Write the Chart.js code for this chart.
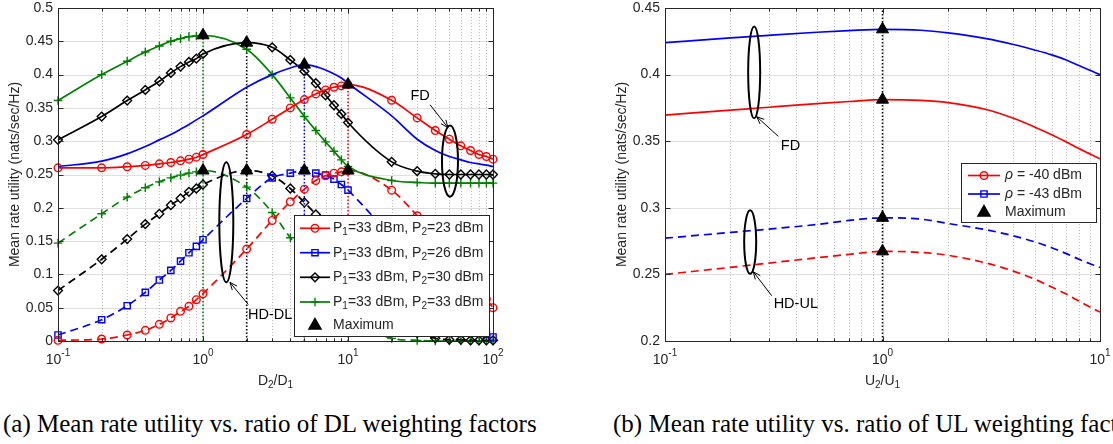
<!DOCTYPE html>
<html>
<head>
<meta charset="utf-8">
<script src="https://cdn.jsdelivr.net/npm/chart.js@4.4.0/dist/chart.umd.min.js"></script>
<style>
  html, body { margin: 0; padding: 0; background: #fff; width: 1113px; height: 444px; overflow: hidden; }
  .wrap { position: absolute; top: 0; height: 400px; }
  #wrapA { left: 0; width: 556px; }
  #wrapB { left: 556px; width: 557px; }
  .cap { position: absolute; top: 410px; font-family: 'Liberation Serif', 'Times New Roman', serif;
         font-size: 25px; line-height: 28px; color: #000; white-space: nowrap; }
</style>
</head>
<body>
<div class="wrap" id="wrapA"><canvas id="chartA"></canvas></div>
<div class="wrap" id="wrapB"><canvas id="chartB"></canvas></div>
<div class="cap" style="left:3px">(a) Mean rate utility vs. ratio of DL weighting factors</div>
<div class="cap" style="left:613px">(b) Mean rate utility vs. ratio of UL weighting factors</div>
<script>
// ====== DATA (a): DL weighting ratio D2/D1 ======

const dlRatio = [0.1, 0.2, 0.3, 0.4, 0.5, 0.6, 0.7, 0.8, 0.9, 1,
  2, 3, 4, 5, 6, 7, 8, 9, 10,
  20, 30, 40, 50, 60, 70, 80, 90, 100];

// FD (solid)
const dlFdP23 = [0.260, 0.260, 0.2616, 0.2636, 0.266, 0.268, 0.2705, 0.273, 0.276, 0.280,
  0.310, 0.333, 0.350, 0.3625, 0.371, 0.377, 0.381, 0.383, 0.385,
  0.3615, 0.335, 0.316, 0.303, 0.293, 0.286, 0.280, 0.277, 0.273];
const dlFdP26 = [0.262, 0.270, 0.281, 0.292, 0.302, 0.310, 0.318, 0.325, 0.332, 0.338,
  0.381, 0.400, 0.410, 0.415, 0.412, 0.407, 0.401, 0.395, 0.387,
  0.338, 0.303, 0.286, 0.277, 0.272, 0.268, 0.266, 0.264, 0.262];
const dlFdP30 = [0.302, 0.337, 0.361, 0.377, 0.390, 0.4025, 0.412, 0.419, 0.424, 0.431,
  0.448, 0.441, 0.422, 0.405, 0.387, 0.369, 0.354, 0.341, 0.328,
  0.269, 0.255, 0.251, 0.250, 0.250, 0.250, 0.250, 0.250, 0.250];
const dlFdP33 = [0.361, 0.400, 0.420, 0.434, 0.443, 0.450, 0.454, 0.457, 0.458, 0.459,
  0.438, 0.400, 0.365, 0.337, 0.316, 0.299, 0.285, 0.272, 0.262,
  0.241, 0.238, 0.237, 0.237, 0.237, 0.237, 0.237, 0.237, 0.237];

// HD-DL (dashed)
const dlHdP23 = [0.001, 0.003, 0.009, 0.016, 0.025, 0.0346, 0.0445, 0.052, 0.062, 0.071,
  0.138, 0.181, 0.209, 0.228, 0.241, 0.248, 0.252, 0.254, 0.256,
  0.2265, 0.188, 0.155, 0.130, 0.110, 0.092, 0.077, 0.063, 0.050];
const dlHdP26 = [0.009, 0.032, 0.053, 0.073, 0.0915, 0.106, 0.120, 0.1325, 0.142, 0.152,
  0.214, 0.245, 0.252, 0.256, 0.252, 0.249, 0.243, 0.235, 0.2265,
  0.155, 0.110, 0.077, 0.050, 0.035, 0.024, 0.015, 0.010, 0.006];
const dlHdP30 = [0.0757, 0.1227, 0.153, 0.1755, 0.191, 0.204, 0.214, 0.224, 0.229, 0.235,
  0.256, 0.248, 0.229, 0.208, 0.190, 0.172, 0.155, 0.140, 0.128,
  0.050, 0.012, 0.004, 0.002, 0.002, 0.001, 0.001, 0.001, 0.001];
const dlHdP33 = [0.147, 0.191, 0.216, 0.230, 0.239, 0.245, 0.249, 0.252, 0.254, 0.256,
  0.231, 0.193, 0.155, 0.130, 0.110, 0.092, 0.077, 0.063, 0.050,
  0.004, 0.001, 0, 0, 0, 0, 0, 0, 0];

// maxima (order: P2 = 23, 26, 30, 33)
const dlMaxRatio = [10, 5, 2, 1];
const dlFdMax = [0.385, 0.415, 0.448, 0.459];
const dlHdMax = [0.256, 0.256, 0.256, 0.256];

const dlSeriesNames = ['P_1=33 dBm, P_2=23 dBm', 'P_1=33 dBm, P_2=26 dBm',
  'P_1=33 dBm, P_2=30 dBm', 'P_1=33 dBm, P_2=33 dBm'];
const dlYTicks = [0, 0.05, 0.1, 0.15, 0.2, 0.25, 0.3, 0.35, 0.4, 0.45, 0.5];
const dlYLabels = ['0', '0.05', '0.1', '0.15', '0.2', '0.25', '0.3', '0.35', '0.4', '0.45', '0.5'];
const dlXExp = [-1, 0, 1, 2];

// ====== DATA (b): UL weighting ratio U2/U1 ======

const ulRatio = [0.1, 0.2, 0.3, 0.5, 0.7, 1, 1.5, 2, 3, 4, 5, 6, 7, 8, 9, 10];
const ulFdR40 = [0.3696, 0.3733, 0.3755, 0.3782, 0.3798, 0.3812, 0.3806, 0.379, 0.3738,
  0.3672, 0.3607, 0.3548, 0.3494, 0.3445, 0.3404, 0.3368];
const ulFdR43 = [0.424, 0.4275, 0.4295, 0.4318, 0.433, 0.434, 0.4333, 0.4313, 0.427,
  0.4226, 0.4185, 0.4148, 0.411, 0.4068, 0.4032, 0.400];
const ulHdR40 = [0.250, 0.2553, 0.2585, 0.2625, 0.265, 0.2673, 0.2665, 0.2644, 0.2585,
  0.2525, 0.2465, 0.2405, 0.2352, 0.2300, 0.2255, 0.2217];
const ulHdR43 = [0.2772, 0.2815, 0.284, 0.2875, 0.2905, 0.2925, 0.2915, 0.2882, 0.2835,
  0.2789, 0.2745, 0.2700, 0.2656, 0.2614, 0.2580, 0.2552];
const ulMaxRatio = [1, 1, 1, 1];
const ulMax = [0.3812, 0.434, 0.2925, 0.2673];

const ulSeriesNames = ['ρ = -40 dBm', 'ρ = -43 dBm'];
const ulYTicks = [0.2, 0.25, 0.3, 0.35, 0.4, 0.45];
const ulYLabels = ['0.2', '0.25', '0.3', '0.35', '0.4', '0.45'];
const ulXExp = [-1, 0, 1];

// ====== STYLE ======

const FONT = "'Liberation Sans', Arial, Helvetica, sans-serif";
const INK = '#262626';
const RED = '#ff0000', BLUE = '#0000ff', BLACK = '#000000', GREEN = '#008000';
const LW = 1.7;       // curve width
const MW = 1.4;       // marker stroke

// ====== TEXT HELPERS ======

// '_x' -> subscript x, ρ -> italic
function richParts(str) {
  const parts = [];
  for (let i = 0; i < str.length; i++) {
    const c = str[i];
    const last = parts[parts.length - 1];
    if (c === '_') { parts.push({ t: str[i + 1], sub: true }); i++; }
    else if (c === 'ρ') parts.push({ t: c, it: true });
    else if (last && !last.sub && !last.it) last.t += c;
    else parts.push({ t: c });
  }
  return parts;
}

function partFont(p, size) {
  const s = p.sub ? Math.round(size * 0.72) : size;
  return `${p.it ? 'italic ' : ''}${s}px ${FONT}`;
}

function drawRich(ctx, str, x, y, size, align) {
  const parts = richParts(str);
  let w = 0;
  parts.forEach(p => { ctx.font = partFont(p, size); p.w = ctx.measureText(p.t).width; w += p.w; });
  let cx = align === 'center' ? x - w / 2 : (align === 'right' ? x - w : x);
  ctx.textAlign = 'left';
  ctx.textBaseline = 'middle';
  parts.forEach(p => {
    ctx.font = partFont(p, size);
    ctx.fillText(p.t, cx, p.sub ? y + size * 0.3 : y);
    cx += p.w;
  });
}

function drawPow(ctx, exp, x, y) {
  ctx.font = `14px ${FONT}`;
  const wb = ctx.measureText('10').width;
  ctx.font = `10px ${FONT}`;
  const we = ctx.measureText(String(exp)).width;
  const x0 = x - (wb + we) / 2;
  ctx.textAlign = 'left';
  ctx.textBaseline = 'middle';
  ctx.font = `14px ${FONT}`;
  ctx.fillText('10', x0, y);
  ctx.font = `10px ${FONT}`;
  ctx.fillText(String(exp), x0 + wb, y - 7);
}

function logTicks(min, max) {
  const out = [];
  for (let e = Math.floor(Math.log10(min)); e <= Math.ceil(Math.log10(max)); e++) {
    for (let k = 1; k <= 9; k++) {
      const v = k * Math.pow(10, e);
      if (v >= min * 0.999 && v <= max * 1.001) out.push({ v, major: k === 1 });
    }
  }
  return out;
}

// ====== PLUGIN: matlab-like axes, notes and legend ======

function drawGrid(chart, cfg) {
  const { ctx, chartArea: a, scales: { x, y } } = chart;
  ctx.save();
  ctx.lineWidth = 1;
  logTicks(x.min, x.max).forEach(t => {
    const px = Math.round(x.getPixelForValue(t.v)) + 0.5;
    ctx.strokeStyle = t.major ? 'rgba(38,38,38,0.15)' : 'rgba(38,38,38,0.3)';
    ctx.setLineDash(t.major ? [] : [1, 2]);
    ctx.beginPath(); ctx.moveTo(px, a.top); ctx.lineTo(px, a.bottom); ctx.stroke();
  });
  ctx.setLineDash([]);
  ctx.strokeStyle = 'rgba(38,38,38,0.15)';
  cfg.yTicks.forEach(v => {
    const py = Math.round(y.getPixelForValue(v)) + 0.5;
    ctx.beginPath(); ctx.moveTo(a.left, py); ctx.lineTo(a.right, py); ctx.stroke();
  });
  ctx.restore();
}

function drawFrame(chart, cfg) {
  const { ctx, chartArea: a, scales: { x, y } } = chart;
  ctx.save();
  ctx.strokeStyle = INK;
  ctx.lineWidth = 1;
  const L = Math.round(a.left) + 0.5, R = Math.round(a.right) + 0.5;
  const T = Math.round(a.top) + 0.5, B = Math.round(a.bottom) + 0.5;
  ctx.strokeRect(L, T, R - L, B - T);
  ctx.beginPath();
  logTicks(x.min, x.max).forEach(t => {
    const px = Math.round(x.getPixelForValue(t.v)) + 0.5;
    const len = t.major ? 5 : 3;
    ctx.moveTo(px, B); ctx.lineTo(px, B - len);
    ctx.moveTo(px, T); ctx.lineTo(px, T + len);
  });
  cfg.yTicks.forEach(v => {
    const py = Math.round(y.getPixelForValue(v)) + 0.5;
    ctx.moveTo(L, py); ctx.lineTo(L + 5, py);
    ctx.moveTo(R, py); ctx.lineTo(R - 5, py);
  });
  ctx.stroke();

  ctx.fillStyle = INK;
  cfg.yTicks.forEach((v, i) => drawRich(ctx, cfg.yLabels[i], a.left - 5, y.getPixelForValue(v), 14, 'right'));
  cfg.xExp.forEach(e => drawPow(ctx, e, x.getPixelForValue(Math.pow(10, e)), a.bottom + 19));

  drawRich(ctx, cfg.xTitle, (a.left + a.right) / 2, a.bottom + 40, 14, 'center');
  ctx.translate(a.left - 43, (a.top + a.bottom) / 2);
  ctx.rotate(-Math.PI / 2);
  drawRich(ctx, 'Mean rate utility (nats/sec/Hz)', 0, 0, 14, 'center');
  ctx.restore();
}

function drawNotes(chart, cfg) {
  const { ctx, scales: { x, y } } = chart;
  ctx.save();
  ctx.strokeStyle = '#000';
  ctx.fillStyle = '#000';
  cfg.notes.forEach(n => {
    if (n.type === 'ellipse') {
      const cy = y.getPixelForValue(n.y);
      const ry = Math.abs(y.getPixelForValue(n.y + n.dy) - cy);
      ctx.lineWidth = 2;
      ctx.beginPath();
      ctx.ellipse(x.getPixelForValue(n.x), cy, n.rx, ry, 0, 0, Math.PI * 2);
      ctx.stroke();
    } else if (n.type === 'arrow') {
      const x1 = x.getPixelForValue(n.from[0]), y1 = y.getPixelForValue(n.from[1]);
      const x2 = x.getPixelForValue(n.to[0]), y2 = y.getPixelForValue(n.to[1]);
      const ang = Math.atan2(y2 - y1, x2 - x1);
      ctx.lineWidth = 1;
      ctx.beginPath();
      ctx.moveTo(x1, y1); ctx.lineTo(x2, y2);
      ctx.moveTo(x2 - 8 * Math.cos(ang - 0.4), y2 - 8 * Math.sin(ang - 0.4));
      ctx.lineTo(x2, y2);
      ctx.lineTo(x2 - 8 * Math.cos(ang + 0.4), y2 - 8 * Math.sin(ang + 0.4));
      ctx.stroke();
    } else {
      drawRich(ctx, n.text, x.getPixelForValue(n.x), y.getPixelForValue(n.y), 14.5, n.align);
    }
  });
  ctx.restore();
}

function drawLegend(chart, cfg) {
  const { ctx } = chart;
  const lg = cfg.legend;
  ctx.save();
  ctx.fillStyle = '#fff';
  ctx.fillRect(lg.box[0], lg.box[1], lg.box[2] - lg.box[0], lg.box[3] - lg.box[1]);
  ctx.strokeStyle = INK;
  ctx.lineWidth = 1;
  ctx.strokeRect(lg.box[0] + 0.5, lg.box[1] + 0.5, lg.box[2] - lg.box[0], lg.box[3] - lg.box[1]);
  lg.entries.forEach((e, i) => {
    const ry = lg.rows[i];
    const mx = (lg.line[0] + lg.line[1]) / 2;
    if (e.line) {
      ctx.strokeStyle = e.color;
      ctx.lineWidth = LW;
      ctx.beginPath(); ctx.moveTo(lg.line[0], ry); ctx.lineTo(lg.line[1], ry); ctx.stroke();
    }
    ctx.strokeStyle = e.color;
    ctx.fillStyle = e.fill || 'rgba(0,0,0,0)';
    ctx.lineWidth = MW;
    Chart.helpers.drawPoint(ctx, { pointStyle: e.style, radius: e.radius, rotation: 0, borderWidth: MW }, mx, ry);
    ctx.fillStyle = INK;
    drawRich(ctx, e.label, lg.textX, ry, 14, 'left');
  });
  ctx.restore();
}

function axesPlugin(cfg) {
  return {
    id: 'matlabAxes',
    beforeDatasetsDraw(chart) { drawGrid(chart, cfg); },
    afterDatasetsDraw(chart) {
      drawFrame(chart, cfg);
      drawNotes(chart, cfg);
      drawLegend(chart, cfg);
    }
  };
}

// ====== DATASETS ======

function pts(xs, ys) { return xs.map((x, i) => ({ x, y: ys[i] })); }

function curve(xs, ys, color, dashed, style, radius) {
  return {
    data: pts(xs, ys),
    borderColor: color, borderWidth: LW, borderDash: dashed ? [8, 5] : [],
    pointStyle: style || 'circle', pointRadius: style ? radius : 0, pointHoverRadius: 0,
    pointBorderColor: color, pointBackgroundColor: 'rgba(0,0,0,0)', pointBorderWidth: MW,
    cubicInterpolationMode: 'monotone', fill: false, clip: false,
  };
}

function guide(xv, y0, y1, color) {
  return {
    data: [{ x: xv, y: y0 }, { x: xv, y: y1 }],
    borderColor: color, borderWidth: 1.5, borderDash: [1.5, 2],
    pointRadius: 0, pointHoverRadius: 0, fill: false, clip: false,
  };
}

function peaks(xs, ys) {
  return {
    data: pts(xs, ys), showLine: false,
    pointStyle: 'triangle', pointRadius: 7, pointHoverRadius: 7,
    pointBackgroundColor: '#000', pointBorderColor: '#000', pointBorderWidth: 1, clip: false,
  };
}

function baseOptions(yMin, yMax, padding, yWidth) {
  return {
    responsive: true, maintainAspectRatio: false, animation: false, events: [],
    layout: { padding },
    plugins: { legend: { display: false }, tooltip: { enabled: false } },
    scales: {
      x: { type: 'logarithmic', min: 0.1, max: 100,
           ticks: { display: false }, grid: { display: false }, border: { display: false },
           afterFit: s => { s.height = 59; s.paddingLeft = 0; s.paddingRight = 0; } },
      y: { type: 'linear', min: yMin, max: yMax,
           ticks: { display: false }, grid: { display: false }, border: { display: false },
           afterFit: s => { s.width = yWidth; s.paddingTop = 0; s.paddingBottom = 0; } }
    }
  };
}

// ====== CHART (a) ======

const dlColors = [RED, BLUE, BLACK, GREEN];
const dlStyles = [['circle', 3.8], ['rect', 4.4], ['rectRot', 4.4], ['cross', 4.3]];
const dlFd = [dlFdP23, dlFdP26, dlFdP30, dlFdP33];
const dlHd = [dlHdP23, dlHdP26, dlHdP30, dlHdP33];

const dlDatasets = [peaks(dlMaxRatio, dlFdMax), peaks(dlMaxRatio, dlHdMax)];
dlFd.forEach((ys, i) => {
  // blue FD curve is drawn without markers
  const st = i === 1 ? [null, 0] : dlStyles[i];
  dlDatasets.push(curve(dlRatio, ys, dlColors[i], false, st[0], st[1]));
});
dlHd.forEach((ys, i) => dlDatasets.push(curve(dlRatio, ys, dlColors[i], true, dlStyles[i][0], dlStyles[i][1])));
dlMaxRatio.forEach((xv, i) => dlDatasets.push(guide(xv, 0, dlFdMax[i], dlColors[i])));

const optsA = baseOptions(0, 0.5, { left: 0, top: 4, right: 63, bottom: 0 }, 58);

new Chart(document.getElementById('chartA'), {
  type: 'line',
  data: { datasets: dlDatasets },
  options: optsA,
  plugins: [axesPlugin({
    yTicks: dlYTicks, yLabels: dlYLabels, xExp: dlXExp, xTitle: 'D_2/D_1',
    notes: [
      { type: 'ellipse', x: 50.5, y: 0.270, dy: 0.0534, rx: 8 },
      { type: 'arrow', from: [36.8, 0.3546], to: [48.9, 0.3205] },
      { type: 'text', text: 'FD', x: 31.4, y: 0.368, align: 'center' },
      { type: 'ellipse', x: 1.448, y: 0.1783, dy: 0.0902, rx: 7 },
      { type: 'arrow', from: [2.05, 0.0549], to: [1.535, 0.088] },
      { type: 'text', text: 'HD-DL', x: 2.043, y: 0.0386, align: 'left' },
    ],
    legend: {
      box: [294, 215, 489, 336], rows: [228.3, 252.7, 277.3, 302, 325.5],
      line: [300, 330], textX: 333,
      entries: dlSeriesNames.map((label, i) => ({
        label, color: dlColors[i], style: dlStyles[i][0], radius: dlStyles[i][1], line: true
      })).concat([{ label: 'Maximum', color: '#000', fill: '#000', style: 'triangle', radius: 7, line: false }])
    }
  })]
});

// ====== CHART (b) ======

const ulDatasets = [
  peaks(ulMaxRatio, ulMax),
  curve(ulRatio, ulFdR40, RED, false),
  curve(ulRatio, ulFdR43, BLUE, false),
  curve(ulRatio, ulHdR40, RED, true),
  curve(ulRatio, ulHdR43, BLUE, true),
  guide(1, 0.2, 0.45, BLACK),
];

const optsB = baseOptions(0.2, 0.45, { left: 0, top: 3, right: 13, bottom: 0 }, 109);
optsB.scales.x.max = 10;

new Chart(document.getElementById('chartB'), {
  type: 'line',
  data: { datasets: ulDatasets },
  options: optsB,
  plugins: [axesPlugin({
    yTicks: ulYTicks, yLabels: ulYLabels, xExp: ulXExp, xTitle: 'U_2/U_1',
    notes: [
      { type: 'ellipse', x: 0.257, y: 0.4017, dy: 0.0345, rx: 6 },
      { type: 'arrow', from: [0.332, 0.3536], to: [0.264, 0.3684] },
      { type: 'text', text: 'FD', x: 0.3776, y: 0.3462, align: 'center' },
      { type: 'ellipse', x: 0.2464, y: 0.2743, dy: 0.0238, rx: 6 },
      { type: 'arrow', from: [0.3094, 0.234], to: [0.2547, 0.252] },
      { type: 'text', text: 'HD-UL', x: 0.3994, y: 0.2275, align: 'center' },
    ],
    legend: {
      box: [405, 163, 540, 222], rows: [175.5, 194, 212.5],
      line: [412, 444], textX: 449,
      entries: [
        { label: ulSeriesNames[0], color: RED, style: 'circle', radius: 3.8, line: true },
        { label: ulSeriesNames[1], color: BLUE, style: 'rect', radius: 4.4, line: true },
        { label: 'Maximum', color: '#000', fill: '#000', style: 'triangle', radius: 7, line: false },
      ]
    }
  })]
});
</script>
</body>
</html>
